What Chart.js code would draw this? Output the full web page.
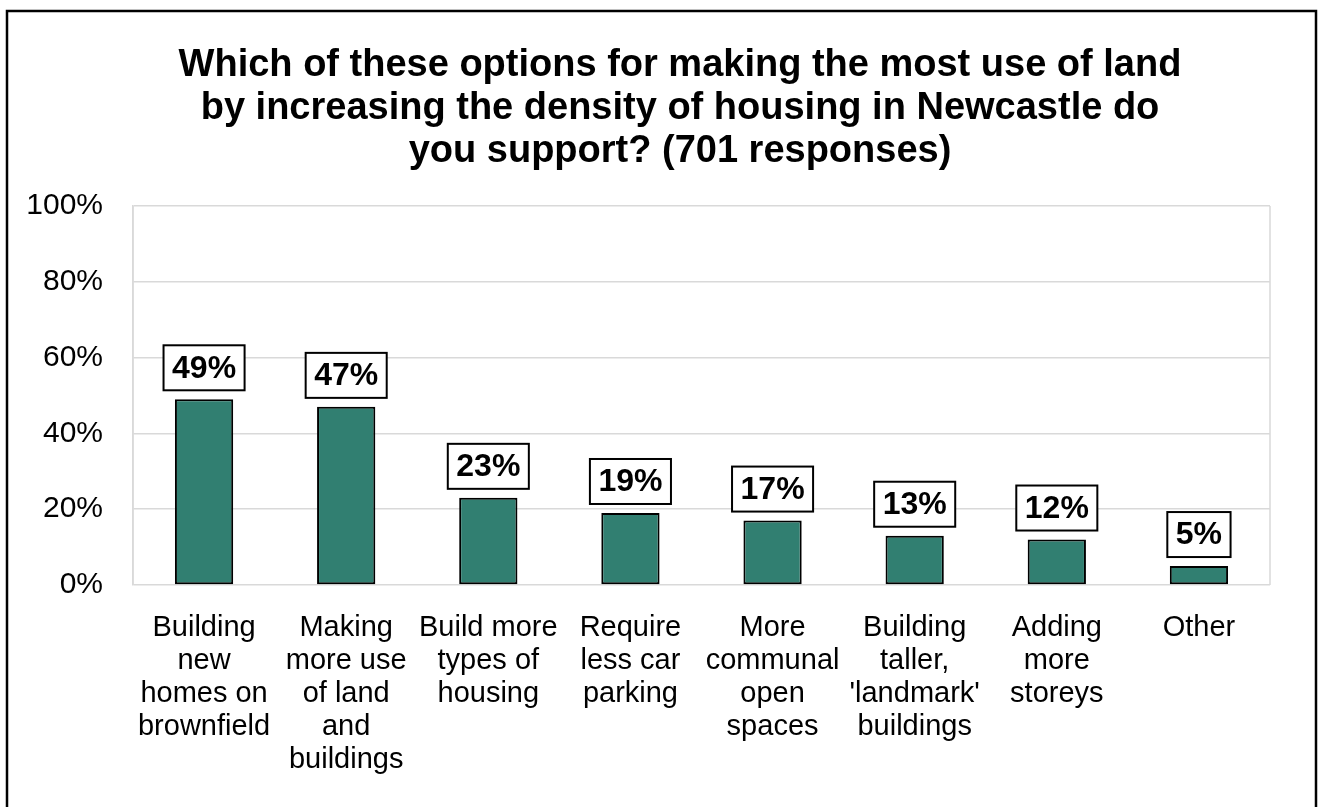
<!DOCTYPE html>
<html lang="en">
<head>
<meta charset="UTF-8">
<title>Housing density options</title>
<script src="https://cdn.jsdelivr.net/npm/chart.js"></script>
<style>
  body { margin: 0; background: #fff; }
</style>
</head>
<body>
<canvas id="density-chart" width="1319" height="807"></canvas>
<script>
// Survey results: share of respondents supporting each option
const titleLines = [
  'Which of these options for making the most use of land',
  'by increasing the density of housing in Newcastle do',
  'you support? (701 responses)'
];
const categories = [
  ['Building', 'new', 'homes on', 'brownfield'],
  ['Making', 'more use', 'of land', 'and', 'buildings'],
  ['Build more', 'types of', 'housing'],
  ['Require', 'less car', 'parking'],
  ['More', 'communal', 'open', 'spaces'],
  ['Building', 'taller,', "'landmark'", 'buildings'],
  ['Adding', 'more', 'storeys'],
  ['Other']
];
const supportPct = [49, 47, 23, 19, 17, 13, 12, 5];
const yTickValues = [0, 20, 40, 60, 80, 100];

const FONT = '"Liberation Sans", Arial, sans-serif';

// outer frame (left, top and right edges; the bottom runs off the canvas)
const frame = {
  id: 'frame',
  afterDraw(chart) {
    const ctx = chart.ctx;
    ctx.save();
    ctx.strokeStyle = '#000';
    ctx.lineWidth = 2.5;
    ctx.beginPath();
    ctx.moveTo(7, 810);
    ctx.lineTo(7, 11);
    ctx.lineTo(1316, 11);
    ctx.lineTo(1316, 810);
    ctx.stroke();
    ctx.restore();
  }
};

// centre the title over the plot area rather than the whole canvas
const titleOverPlot = {
  id: 'titleOverPlot',
  afterLayout(chart) {
    if (chart.titleBlock) {
      chart.titleBlock.left = 90;
      chart.titleBlock.right = chart.chartArea.right;
    }
  }
};

// grey sides of the plot area
const plotBox = {
  id: 'plotBox',
  beforeDatasetsDraw(chart) {
    const a = chart.chartArea;
    const ctx = chart.ctx;
    ctx.save();
    ctx.strokeStyle = '#D9D9D9';
    ctx.lineWidth = 1.5;
    ctx.beginPath();
    ctx.moveTo(a.left, a.top);
    ctx.lineTo(a.left, a.bottom);
    ctx.moveTo(a.right, a.top);
    ctx.lineTo(a.right, a.bottom);
    ctx.stroke();
    ctx.restore();
  }
};

// boxed value labels above each bar
const valueBoxes = {
  id: 'valueBoxes',
  afterDatasetsDraw(chart) {
    const ctx = chart.ctx;
    const meta = chart.getDatasetMeta(0);
    ctx.save();
    ctx.font = 'bold 32px ' + FONT;
    ctx.textAlign = 'center';
    ctx.textBaseline = 'middle';
    meta.data.forEach((bar, i) => {
      const text = supportPct[i] + '%';
      const w = ctx.measureText(text).width + 17;
      const h = 45;
      const x = bar.x - w / 2;
      const y = bar.y - 9 - h;
      ctx.fillStyle = '#fff';
      ctx.fillRect(x, y, w, h);
      ctx.lineWidth = 2;
      ctx.strokeStyle = '#000';
      ctx.strokeRect(x, y, w, h);
      ctx.fillStyle = '#000';
      ctx.fillText(text, bar.x, y + h / 2 + 1);
    });
    ctx.restore();
  }
};

new Chart(document.getElementById('density-chart'), {
  type: 'bar',
  data: {
    labels: categories,
    datasets: [{
      data: supportPct,
      backgroundColor: '#317F71',
      borderColor: '#000',
      borderWidth: 2,
      borderSkipped: false,
      barPercentage: 0.41,
      categoryPercentage: 1
    }]
  },
  options: {
    responsive: false,
    animation: false,
    layout: { padding: { top: 0, left: 0, right: 49, bottom: 0 } },
    plugins: {
      legend: { display: false },
      tooltip: { enabled: false },
      title: {
        display: true,
        text: titleLines,
        color: '#000',
        font: { family: FONT, size: 38, weight: 'bold', lineHeight: '43px' },
        padding: { top: 44, bottom: 33 }
      }
    },
    scales: {
      x: {
        grid: { display: false },
        border: { display: false },
        ticks: {
          color: '#000',
          font: { family: FONT, size: 29, lineHeight: '33px' },
          padding: 18,
          maxRotation: 0,
          autoSkip: false
        },
        afterFit(scale) { scale.height = 222; }
      },
      y: {
        min: 0,
        max: 100,
        afterBuildTicks(scale) {
          scale.ticks = yTickValues.map(v => ({ value: v }));
        },
        grid: { color: '#D9D9D9', lineWidth: 1.5, drawTicks: false },
        border: { display: true, color: '#D9D9D9', width: 1.5 },
        ticks: {
          color: '#000',
          font: { family: FONT, size: 30 },
          padding: 30,
          callback: v => v + '%'
        },
        afterFit(scale) { scale.width = 133; }
      }
    }
  },
  plugins: [frame, titleOverPlot, plotBox, valueBoxes]
});
</script>
</body>
</html>
